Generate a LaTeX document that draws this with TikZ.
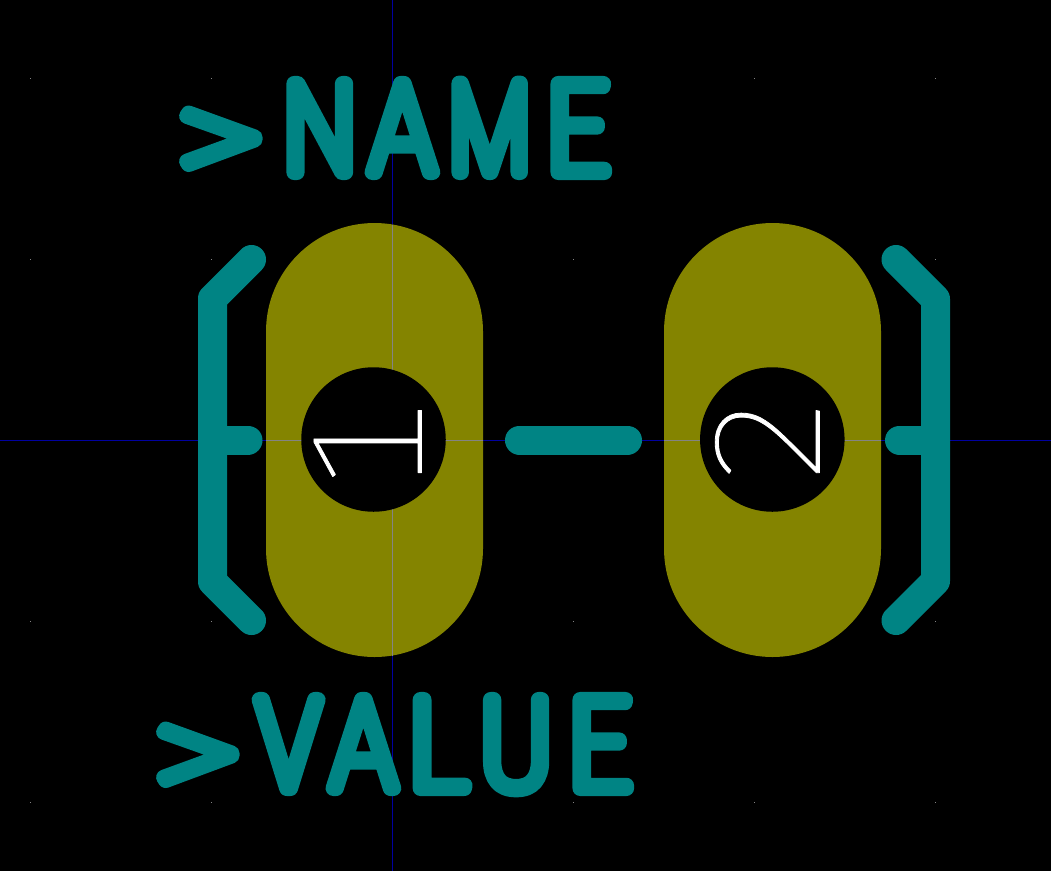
\documentclass[tikz,border=0pt]{standalone}
\usepackage{fontspec}
\newfontfamily\fG[FakeStretch=1.365]{Fira Sans Thin}
\newfontfamily\fN[FakeStretch=0.95]{Fira Sans Thin}
\newfontfamily\fA[FakeStretch=0.923]{Fira Sans Thin}
\newfontfamily\fM[FakeStretch=0.748]{Poppins Thin}
\newfontfamily\fE[FakeStretch=1.081]{Fira Sans Thin}
\newfontfamily\fV[FakeStretch=0.941]{Fira Sans Thin}
\newfontfamily\fL[FakeStretch=1.096]{Fira Sans Thin}
\newfontfamily\fU[FakeStretch=0.939]{Fira Sans Thin}
\newfontfamily\fOne[FakeStretch=1.15,Numbers=Tabular]{Fira Sans Thin}
\newfontfamily\fTwo[FakeStretch=1.12]{Fira Sans Thin}
\definecolor{silk}{RGB}{0,132,132}
\definecolor{padc}{RGB}{132,132,0}
\definecolor{axisb}{RGB}{0,0,160}
\definecolor{axisg}{RGB}{132,132,132}
\newcommand{\strk}[2]{\special{pdf:code 2 Tr #1 w 1 j 1 J #2}}
\newcommand{\unstrk}{\special{pdf:code 0 Tr 1 w 0 j 0 J}}
\newcommand{\gl}[4][130]{\makebox[#2pt][l]{#3\fontsize{#1}{#1}\selectfont #4}}
\tikzset{
 silkline/.style={draw=silk,line width=29pt,line cap=round,line join=round},
 pad/.style={fill=padc,rounded corners=108.5pt},
 hole/.style={circle,fill=black,minimum size=144.5pt,inner sep=0pt},
 silktext/.style={inner sep=0pt,anchor=base west,text=silk},
 numtext/.style={inner sep=0pt,anchor=base west,text=white,rotate=90},
}
\begin{document}
\begin{tikzpicture}[x=1pt,y=-1pt]
\useasboundingbox (0,0) rectangle (1051,871);
\fill[black] (0,0) rectangle (1051,871);
\foreach \gx in {30,211,392,573,754,935}
 \foreach \gy in {78,259,440,621,802}
  \fill[axisg] (\gx-.5,\gy-.5) rectangle (\gx+.5,\gy+.5);
\draw[axisb,line width=1pt] (392,0) -- (392,871);
\draw[axisb,line width=1pt] (0,440) -- (1051,440);
\fill[pad] (266,223) rectangle (483,657);
\fill[pad] (664,223) rectangle (881,657);
\draw[axisg,line width=1pt] (392,224.5) -- (392,655.5);
\draw[axisg,line width=1pt] (266,440) -- (483,440);
\draw[axisg,line width=1pt] (664,440) -- (881,440);
\node[hole] (hole1) at (373.5,439.5) {};
\node[hole] (hole2) at (772.3,439.5) {};
\draw[silkline] (251.5,259.5) -- (212.5,298.5) -- (212.5,581.5) -- (251.5,620.5);
\draw[silkline] (212.5,440) -- (248,440);
\draw[silkline] (519.5,440) -- (627.5,440);
\draw[silkline] (896,259.5) -- (935.5,299) -- (935.5,581) -- (896,620.5);
\draw[silkline] (935.5,440) -- (899.5,440);
\node[silktext] (name) at (170.75,172.25) {\strk{15.5}{0 0.518 0.518 RG}\raisebox{-15.5pt}{\gl[148]{108}{\fG}{>}}\gl{90}{\fN}{N}\gl{82}{\fA}{A}\gl{90}{\fM}{M}\gl{60}{\fE}{E}\unstrk};
\node[silktext] (value) at (147.75,788.25) {\strk{15.5}{0 0.518 0.518 RG}\raisebox{-15.5pt}{\gl[148]{108}{\fG}{>}}\gl{74}{\fV}{V}\gl{73}{\fA}{A}\gl{74}{\fL}{L}\gl{86}{\fU}{U}\gl{60}{\fE}{E}\unstrk};
\node[numtext] (num1) at (421.5,497.5) {\strk{0.8}{1 1 1 RG}\fOne\fontsize{158}{158}\selectfont 1\unstrk};
\node[numtext] (num2) at (819.5,481) {\strk{0.8}{1 1 1 RG}\fTwo\fontsize{155}{155}\selectfont 2\unstrk};
\end{tikzpicture}
\end{document}
